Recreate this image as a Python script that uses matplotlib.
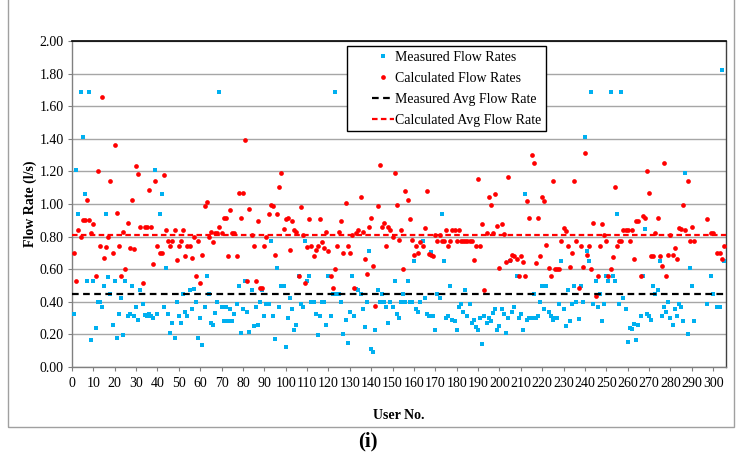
import numpy as np
import matplotlib
matplotlib.use("Agg")
import matplotlib.pyplot as plt
from matplotlib.lines import Line2D
from matplotlib.patches import Rectangle
from matplotlib.legend_handler import HandlerLine2D

nan = float("nan")

users = list(range(1, 306))

measured = [
    0.325, 1.21, 0.94, 1.69, 1.41, 1.06, 0.53, 1.69, 0.165, 0.53,
    0.24, 0.40, 0.40, 0.37, 0.50, 0.94, 0.55, 0.45, 0.26, 0.53,
    0.18, 0.325, 0.425, 0.195, 0.53, 0.315, 0.325, 0.50, 0.315, 0.37,
    0.29, 0.47, 0.385, 0.32, 0.315, 0.325, 0.315, 0.30, 1.21, 0.325,
    0.94, 1.06, 0.37, 0.605, 0.325, 0.21, 0.27, 0.18, 0.40, 0.315,
    0.27, 0.445, 0.34, 0.315, 0.47, 0.355, 0.48, 0.40, 0.175, 0.30,
    0.135, 0.37, 0.56, 0.445, 0.27, 0.26, 0.33, 0.40, 1.69, 0.37,
    0.28, 0.37, 0.28, 0.355, 0.28, 0.325, 0.385, 0.50, 0.21, 0.355,
    0.53, 0.34, 0.215, 0.47, 0.25, 0.37, 0.26, 0.40, 0.47, 0.315,
    0.385, 0.385, 0.77, 0.315, 0.17, 0.605, 0.37, 0.50, 0.50, 0.125,
    0.30, 0.425, 0.355, 0.23, 0.26, 0.56, 0.385, 0.37, 0.77, 0.53,
    0.56, 0.40, 0.40, 0.325, 0.195, 0.315, 0.40, 0.40, 0.26, 0.56,
    0.315, 0.445, 1.69, 0.445, 0.445, 0.40, 0.20, 0.29, 0.145, 0.34,
    0.56, 0.315, 0.48, 0.47, 0.445, 0.355, 0.245, 0.40, 0.71, 0.11,
    0.09, 0.23, 0.47, 0.40, 0.445, 0.40, 0.37, 0.27, 0.40, 0.37,
    0.53, 0.325, 0.30, 0.40, 0.445, 0.40, 0.53, 0.40, 0.40, 0.65,
    0.355, 0.34, 0.40, 0.77, 0.425, 0.325, 0.315, 0.705, 0.315, 0.225,
    0.445, 0.425, 0.94, 0.65, 0.30, 0.315, 0.50, 0.29, 0.28, 0.225,
    0.37, 0.385, 0.34, 0.47, 0.315, 0.385, 0.27, 0.29, 0.245, 0.225,
    0.30, 0.14, 0.315, 0.27, 0.30, 0.28, 0.33, 0.355, 0.23, 0.25,
    0.355, 0.325, 0.21, 0.30, 0.65, 0.34, 0.37, 0.56, 0.30, 0.325,
    0.23, 1.06, 0.29, 0.30, 0.30, 0.445, 0.30, 0.315, 0.40, 0.50,
    0.355, 0.50, 0.34, 0.315, 0.29, 0.30, 0.30, 0.385, 0.65, 0.355,
    0.25, 0.47, 0.285, 0.385, 0.50, 0.40, 0.295, 0.50, 0.40, 1.41,
    0.71, 0.65, 1.69, 0.385, 0.53, 0.37, 0.445, 0.285, 0.385, 0.56,
    0.53, 1.69, 0.56, 0.53, 0.94, 0.385, 1.69, 0.425, 0.355, 0.155,
    0.24, 0.235, 0.265, 0.165, 0.26, 0.315, 0.56, 0.845, 0.325, 0.315,
    0.29, 0.50, 0.445, 0.47, 0.65, 0.315, 0.37, 0.34, 0.40, 0.30,
    0.26, 0.355, 0.315, 0.385, 0.37, 0.28, 1.19, 0.205, 0.605, 0.50,
    0.28, nan, nan, nan, nan, nan, 0.385, nan, 0.56, 0.445,
    nan, 0.37, 0.37, 1.82, 0.65,
]

calculated = [
    0.70, 0.525, 0.84, 0.80, 0.90, 0.90, 1.025, 0.90, 0.82, 0.88,
    0.56, 1.20, 0.74, 1.655, 0.67, 0.735, 0.80, 1.14, 0.70, 1.36,
    0.945, 0.74, 0.56, 0.83, 0.60, 0.885, 0.73, 1.025, 0.725, 1.235,
    1.185, 0.86, 0.515, 0.86, 0.86, 1.085, 0.86, 0.63, 1.14, 0.74,
    0.70, 0.70, 1.175, 0.84, 0.775, 0.74, 0.775, 0.84, 0.655, 0.74,
    0.775, 0.84, 0.68, 0.74, 0.74, 0.67, 0.80, 0.56, 0.77, 0.515,
    0.69, 0.99, 1.01, 0.795, 0.83, 0.765, 0.82, 0.82, 0.86, 0.82,
    0.915, 0.915, 0.68, 0.965, 0.82, 0.82, 0.68, 1.07, 0.915, 1.07,
    1.39, 0.53, 0.97, 0.81, 0.745, 0.53, 0.895, 0.485, 0.485, 0.745,
    0.795, 0.94, 0.995, 0.99, 0.69, 0.94, 1.105, 1.19, 0.845, 0.91,
    0.915, 0.72, 0.895, 0.84, 0.83, 0.56, 0.98, 0.81, 0.515, 0.735,
    0.91, 0.74, 0.68, 0.72, 0.74, 0.91, 0.765, 0.73, 0.83, 0.71,
    0.56, 0.485, 0.60, 0.74, 0.83, 0.895, 0.70, 1.005, 0.74, 0.70,
    0.81, 0.485, 0.82, 0.84, 1.04, 0.83, 0.66, 0.57, 0.86, 0.915,
    0.62, 0.375, 0.99, 1.24, 0.86, 0.885, 0.745, 0.86, 0.84, 0.80,
    1.19, 0.995, 0.78, 0.84, 0.60, 1.08, 1.025, 0.905, 0.78, 0.685,
    0.74, 0.70, 0.765, 0.74, 0.855, 1.08, 0.695, 0.685, 0.68, 0.81,
    0.775, 0.81, 0.775, 0.775, 0.84, 0.74, 0.775, 0.84, 0.84, 0.775,
    0.84, 0.775, 0.775, 0.775, 0.775, 0.775, 0.775, 0.655, 0.74, 1.155,
    0.74, 0.875, 0.475, 0.82, 1.04, 0.995, 0.82, 1.06, 0.865, 0.605,
    0.88, 0.815, 0.645, 1.165, 0.655, 0.69, 0.68, 0.66, 0.56, 0.68,
    0.645, 0.56, 1.02, 0.915, 1.30, 1.25, 0.64, 0.915, 0.68, 1.045,
    1.02, 0.75, 0.605, 0.56, 1.14, 0.60, 0.60, 0.60, 0.775, 0.855,
    0.835, 0.745, 0.615, 0.70, 1.14, 0.77, 0.485, 0.74, 0.615, 1.31,
    0.69, 0.74, 0.60, 0.885, 0.435, 0.56, 0.74, 0.88, 0.81, 0.775,
    0.56, 0.60, 0.675, 1.105, 0.74, 0.77, 0.775, 0.84, 0.84, 0.84,
    0.775, 0.84, 0.66, 0.895, 0.895, 0.56, 0.925, 0.915, 1.20, 1.07,
    0.68, 0.68, 0.82, 0.915, 0.68, 0.62, 1.25, 0.56, 0.69, 0.81,
    0.69, 0.73, 0.66, 0.855, 0.845, 0.995, 0.84, 1.14, 0.775, 0.86,
    0.775, nan, nan, nan, nan, nan, 0.905, nan, 0.82, 0.82,
    nan, 0.70, 0.70, 0.66, 0.745,
]

measured_avg = 0.45
calculated_avg = 0.81

x_ticks = list(range(0, 301, 10))
y_ticks = [0.0, 0.2, 0.4, 0.6, 0.8, 1.0, 1.2, 1.4, 1.6, 1.8, 2.0]

series_labels = ["Measured Flow Rates", "Calculated Flow Rates",
                 "Measured Avg Flow Rate", "Calculated Avg Flow Rate"]

SERIF = ["Liberation Serif", "DejaVu Serif"]
plt.rcParams["font.family"] = SERIF

W, H = 736, 457
fig = plt.figure(figsize=(W / 100, H / 100), dpi=100)

# outer chart frame
frame = Rectangle((8 / W, 1 - 427 / H), (734 - 8) / W, 427 / H + 0.02,
                  transform=fig.transFigure, fill=False,
                  edgecolor="#a0a0a0", linewidth=1.0, clip_on=False)
fig.patches.append(frame)

ax = fig.add_axes([72 / W, 1 - 367 / H, (726 - 72) / W, (367 - 41) / H])

blue = "#00B0F0"
red = "#FF0000"

ax.plot(users, measured, linestyle="none", marker="s", markersize=3.2,
        color=blue, markeredgewidth=0, zorder=3)
ax.plot(users, calculated, linestyle="none", marker="o", markersize=3.4,
        color=red, markeredgewidth=0, zorder=3)

xmin, xmax = 0, 306
ax.plot([xmin, xmax], [measured_avg, measured_avg], color="black",
        linestyle=(0, (3, 2)), linewidth=1.6, zorder=4)
ax.plot([xmin, xmax], [calculated_avg, calculated_avg], color=red,
        linestyle=(0, (2.5, 1.5)), linewidth=1.6, zorder=4)

ax.set_xlim(xmin, xmax)
ax.set_ylim(0, 2.0)
ax.set_xticks(x_ticks)
ax.set_xticklabels([str(t) for t in x_ticks])
ax.set_yticks(y_ticks)
ax.set_yticklabels(["%.2f" % t for t in y_ticks])
ax.tick_params(axis="both", labelsize=10, length=3, width=0.8,
               color="#808080", pad=3)
ax.tick_params(axis="x", pad=4)

ax.yaxis.grid(True, color="#a6a6a6", linewidth=1.0)
ax.set_axisbelow(True)
for s in ["left", "bottom"]:
    ax.spines[s].set_color("#808080")
    ax.spines[s].set_linewidth(1.0)
ax.spines["top"].set_color("black")
ax.spines["top"].set_linewidth(1.2)
ax.spines["right"].set_color("#404040")
ax.spines["right"].set_linewidth(1.0)

ax.set_ylabel("Flow Rate (l/s)", fontsize=10, fontweight="bold", labelpad=2)
ax.set_xlabel("User No.", fontsize=10, fontweight="bold", labelpad=14)

handles = [
    Line2D([], [], linestyle="none", marker="s", markersize=3.2,
           color=blue, markeredgewidth=0),
    Line2D([], [], linestyle="none", marker="o", markersize=3.4,
           color=red, markeredgewidth=0),
    Line2D([], [], color="black", linestyle=(0, (3, 2)), linewidth=1.6),
    Line2D([], [], color=red, linestyle=(0, (2.5, 1.5)), linewidth=1.6),
]
hmap = {h: HandlerLine2D(xpad=1.45) for h in handles}
leg = ax.legend(handles, series_labels, loc="upper left",
                bbox_to_anchor=(0.421, 0.985), fontsize=10,
                frameon=True, fancybox=False, framealpha=1,
                edgecolor="black", handlelength=3.0, handletextpad=0.05,
                labelspacing=0.57, borderpad=0.35, borderaxespad=0,
                handler_map=hmap)
leg.get_frame().set_linewidth(1.0)
leg.set_zorder(10)

fig.text(368 / W, 1 - 441 / H, "(i)", ha="center", va="center",
         fontsize=15, fontweight="bold")

fig.savefig("out.png", dpi=100)
